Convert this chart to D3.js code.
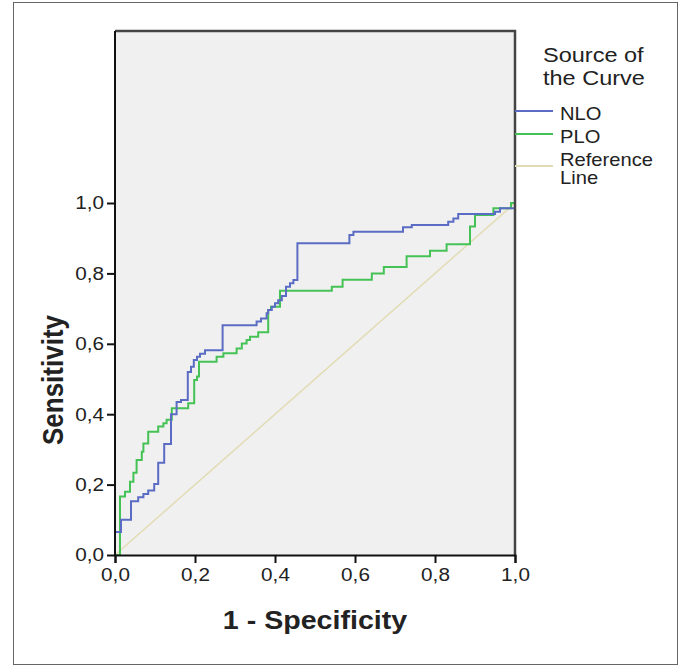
<!DOCTYPE html>
<html>
<head>
<meta charset="utf-8">
<script src="https://cdn.jsdelivr.net/npm/d3@7"></script>
<style>
	body { margin: 0; background: #fff; }
	text { font-family: 'Liberation Sans', Arial, sans-serif; fill: #222; }
</style>
</head>
<body>
<script>
// ROC curve vertices [1 - specificity, sensitivity], drawn as step-after
var nloPoints = [
	[0, 0], [0, 0.065], [0.015, 0.10], [0.04, 0.153], [0.058, 0.164], [0.071, 0.173],
	[0.083, 0.183], [0.098, 0.202], [0.108, 0.262], [0.123, 0.315], [0.14, 0.40],
	[0.154, 0.435], [0.165, 0.44], [0.182, 0.52], [0.19, 0.535], [0.197, 0.554],
	[0.205, 0.563], [0.2125, 0.572], [0.225, 0.582], [0.269, 0.653], [0.354, 0.663],
	[0.365, 0.672], [0.379, 0.687], [0.383, 0.696], [0.392, 0.705], [0.40, 0.715],
	[0.408, 0.724], [0.417, 0.736], [0.4275, 0.762], [0.4375, 0.772], [0.446, 0.781],
	[0.456, 0.886], [0.586, 0.909], [0.596, 0.918], [0.72, 0.931], [0.742, 0.9375],
	[0.833, 0.947], [0.846, 0.956], [0.858, 0.969], [0.95, 0.975], [0.9625, 0.985],
	[1, 0.985], [1, 1]
]
var ploPoints = [
	[0, 0], [0.0125, 0.166], [0.025, 0.18], [0.0375, 0.208], [0.046, 0.234], [0.054, 0.27],
	[0.067, 0.293], [0.071, 0.317], [0.083, 0.35], [0.108, 0.365], [0.121, 0.374],
	[0.129, 0.384], [0.142, 0.417], [0.183, 0.431], [0.198, 0.497], [0.205, 0.507],
	[0.21, 0.549], [0.254, 0.563], [0.271, 0.573], [0.304, 0.587], [0.317, 0.601],
	[0.329, 0.611], [0.3375, 0.62], [0.358, 0.633], [0.383, 0.696], [0.39, 0.705],
	[0.4125, 0.751], [0.542, 0.762], [0.569, 0.782], [0.642, 0.80], [0.672, 0.818],
	[0.729, 0.849], [0.7875, 0.864], [0.829, 0.883], [0.8875, 0.933], [0.90, 0.966],
	[0.946, 0.985], [0.99, 1.0], [1, 1]
]
var refPoints = [[0, 0], [1, 1]]

var tickValues = [0, 0.2, 0.4, 0.6, 0.8, 1.0]
var tickLabels = ['0,0', '0,2', '0,4', '0,6', '0,8', '1,0']

var legendTitle = ['Source of', 'the Curve']
var legendItems = [
	{label: ['NLO'], color: '#5a6cc4'},
	{label: ['PLO'], color: '#45c255'},
	{label: ['Reference', 'Line'], color: '#e2dcb4'}
]

var width = 681
var height = 668
var margin = {left: 115, top: 31, right: 166, bottom: 113}
var stretch = 1.12  // the original picture is a little wider than tall

var x = d3.scaleLinear().domain([0, 1]).range([margin.left, 515])
var y = d3.scaleLinear().domain([0, 1]).range([555, 203])

var svg = d3.select('body').append('svg')
	.attr('width', width)
	.attr('height', height)

// outer frame
svg.append('rect')
	.attr('x', 13.5).attr('y', 2.5)
	.attr('width', 664).attr('height', 662)
	.attr('fill', '#fff')
	.attr('stroke', '#666')
	.attr('stroke-width', 1)

// plot background
svg.append('rect')
	.attr('x', x(0)).attr('y', margin.top)
	.attr('width', x(1) - x(0)).attr('height', y(0) - margin.top)
	.attr('fill', '#f0f0f0')

var fmt = (d) => tickLabels[tickValues.indexOf(d)]

var xAxis = d3.axisBottom(x).tickValues(tickValues).tickFormat(fmt).tickSizeOuter(0).tickSize(8).tickPadding(5)
var yAxis = d3.axisLeft(y).tickValues(tickValues).tickFormat(fmt).tickSizeOuter(0).tickSize(8).tickPadding(3)

var line = d3.line()
	.x((d) => { return x(d[0]); })
	.y((d) => { return y(d[1]); })

var stepLine = d3.line()
	.x((d) => { return x(d[0]); })
	.y((d) => { return y(d[1]); })
	.curve(d3.curveStepAfter)

svg.append('path').attr('d', line(refPoints))
	.attr('stroke', legendItems[2].color)
	.attr('stroke-width', 1.5)
	.attr('fill', 'none')

svg.append('path').attr('d', stepLine(ploPoints))
	.attr('stroke', legendItems[1].color)
	.attr('stroke-width', 2)
	.attr('fill', 'none')

svg.append('path').attr('d', stepLine(nloPoints))
	.attr('stroke', legendItems[0].color)
	.attr('stroke-width', 2)
	.attr('fill', 'none')

// top and right frame of the plot
svg.append('path')
	.attr('d', 'M' + x(0) + ',' + margin.top + 'H' + x(1) + 'V' + y(0))
	.attr('stroke', '#444')
	.attr('stroke-width', 2.5)
	.attr('fill', 'none')

var gx = svg.append('g')
	.attr('transform', 'translate(0,' + y(0) + ')')
	.call(xAxis)
var gy = svg.append('g')
	.attr('transform', 'translate(' + x(0) + ',0)')
	.call(yAxis)

// y axis line runs up to the top of the frame
gy.select('.domain').attr('d', 'M0,' + y(0) + 'V' + margin.top)

svg.selectAll('.domain').attr('stroke', '#111').attr('stroke-width', 2)
svg.selectAll('.tick line').attr('stroke', '#111').attr('stroke-width', 2)
svg.selectAll('.tick text')
	.attr('font-family', "'Liberation Sans', Arial, sans-serif")
	.attr('font-size', 18.5)
	.attr('fill', '#444')

// widen tick labels around their anchor
gx.selectAll('.tick text').each(function () {
	var t = d3.select(this)
	t.attr('transform', 'translate(0,' + t.attr('y') + ') scale(' + stretch + ',1)').attr('y', 0)
})
gy.selectAll('.tick text').each(function () {
	var t = d3.select(this)
	t.attr('transform', 'translate(' + t.attr('x') + ',0) scale(' + stretch + ',1)').attr('x', 0)
})

svg.append('text')
	.attr('transform', 'translate(' + (x(0) + x(1)) / 2 + ',629) scale(1.1,1)')
	.attr('text-anchor', 'middle')
	.attr('font-size', 26)
	.attr('font-weight', 'bold')
	.text('1 - Specificity')

svg.append('text')
	.attr('transform', 'translate(63,380) scale(1.1,1) rotate(-90)')
	.attr('text-anchor', 'middle')
	.attr('font-size', 26)
	.attr('font-weight', 'bold')
	.text('Sensitivity')

// legend
var legend = svg.append('g')
legend.selectAll('.ltitle').data(legendTitle).enter().append('text')
	.attr('transform', (d, i) => 'translate(543,' + (62 + i * 23) + ') scale(' + stretch + ',1)')
	.attr('font-size', 21)
	.attr('fill', '#333')
	.text((d) => d)

var itemY = [111, 134, 166]
var itemTextY = [[120], [143], [166, 184]]
legendItems.forEach((item, i) => {
	legend.append('line')
		.attr('x1', x(1)).attr('x2', 553)
		.attr('y1', itemY[i]).attr('y2', itemY[i])
		.attr('stroke', item.color)
		.attr('stroke-width', 2)
	legend.selectAll(null).data(item.label).enter().append('text')
		.attr('transform', (d, j) => 'translate(560,' + itemTextY[i][j] + ') scale(' + stretch + ',1)')
		.attr('font-size', 18)
		.attr('fill', '#333')
		.text((d) => d)
})
</script>
</body>
</html>
